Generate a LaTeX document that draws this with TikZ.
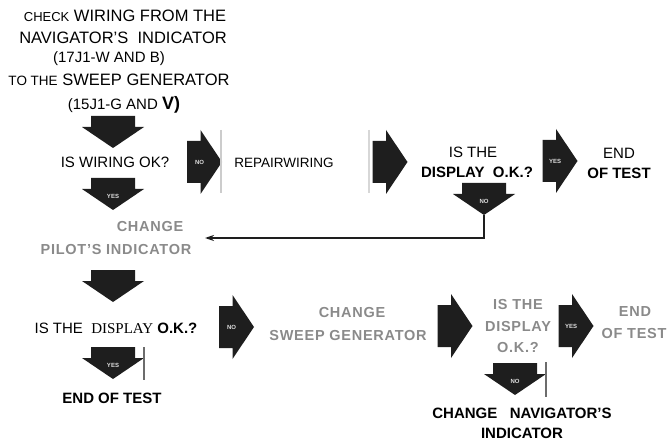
\documentclass[tikz,border=0pt]{standalone}
\usepackage{fontspec}
\setmainfont{Liberation Sans}
\newfontfamily\serifface{Liberation Serif}
\usetikzlibrary{arrows.meta}
\definecolor{ink}{HTML}{1E1E1E}
\definecolor{fadetext}{HTML}{8A8A8A}
\definecolor{edge}{HTML}{9A9A9A}
\begin{document}
\begin{tikzpicture}[x=1pt,y=-1pt,
  txt/.style={inner sep=0pt, text=black, font=\fontsize{15}{18}\selectfont},
  btxt/.style={txt, font=\fontsize{15}{18}\selectfont\bfseries},
  toptxt/.style={inner sep=0pt, text=black, font=\fontsize{16.5}{19}\selectfont},
  fade/.style={inner sep=0pt, text=fadetext, font=\fontsize{14.5}{17}\selectfont\bfseries\addfontfeatures{LetterSpace=5}},
  tag/.style={inner sep=0pt, text=white!75!gray, font=\fontsize{6}{6}\selectfont\bfseries},
  conn/.style={draw=ink, line width=1.4pt, -{Stealth[length=9pt,width=6pt]}},
  scanline/.style={draw=edge, line width=1.2pt},
  rarr/.pic={
    \fill[ink] (-17.5,-21) -- (-4,-21) -- (-4,-32) -- (17.5,0) -- (-4,32) -- (-4,21) -- (-17.5,21) -- cycle;
    \node[tag] (-t) at (-5,0) {#1};
  },
  darr/.pic={
    \fill[ink] (-22,-16) -- (22,-16) -- (22,-5) -- (31,-5) -- (0,16) -- (-31,-5) -- (-22,-5) -- cycle;
    \node[tag] (-t) at (0,2) {#1};
    \coordinate (-tip) at (0,16);
  }]
\useasboundingbox (0,0) rectangle (667,441);

% top block
\node[toptxt] (l1) at (125,16) {{\fontsize{13}{15}\selectfont CHECK} WIRING FROM THE};
\node[toptxt] (l2) at (123,38) {NAVIGATOR'S\ \ INDICATOR};
\node[toptxt] (l3) at (109,59) {\fontsize{15}{17}\selectfont (17J1-W AND\ B)};
\node[toptxt] (l4) at (119,80) {{\fontsize{13.5}{16}\selectfont TO THE} SWEEP GENERATOR};
\node[toptxt] (l5) at (124,105) {\fontsize{15}{17}\selectfont (15J1-G AND \textbf{\fontsize{18}{18}\selectfont V)}};

% row 1
\pic (a1) at (113,132) {darr={}};
\node[txt] (wiring) at (115,162) {IS WIRING OK?};
\pic (r1) at (204.5,162) {rarr=NO};
\draw[scanline, draw=edge!50] (221,130) -- (221,193);
\node[txt, font=\fontsize{13.5}{16}\selectfont] (repair) at (284,163) {REPAIRWIRING};
\draw[scanline, draw=edge!40] (369,130) -- (369,193);
\pic (r2) at (390,162) {rarr={}};
\node[txt] (isthe1) at (473,152) {IS THE};
\node[btxt] (disp1) at (477,172) {DISPLAY\ \ O.K.?};
\pic (r3) at (560,161) {rarr=YES};
\node[txt] (end1) at (619,153) {END};
\node[btxt] (oft1) at (619,173) {OF TEST};
\pic (a2) at (113,194) {darr=YES};
\pic (na) at (484,199) {darr=NO};

% row 2
\node[fade] (pil1) at (150,227) {CHANGE};
\node[fade] (pil2) at (116,250) {PILOT'S INDICATOR};
\coordinate (pend) at (205,238);
\draw[conn] (na-tip) |- (pend);
\pic (a3) at (113,286) {darr={}};

% row 3
\node[txt] (disp2) at (116,328) {IS THE\ \ {\serifface DISPLAY} \textbf{O.K.?}};
\pic (a4) at (113,363) {darr=YES};
\draw[scanline, draw=edge!70!black] (144,347) -- (144,380);
\node[btxt] (end2) at (112,398) {END OF TEST};
\pic (r4) at (236.5,327) {rarr=NO};
\node[fade] (sw1) at (352,313) {CHANGE};
\node[fade] (sw2) at (348,336) {SWEEP GENERATOR};
\pic (r5) at (455,326) {rarr={}};
\node[fade] (is3) at (518,305) {IS THE};
\node[fade] (is4) at (518,327) {DISPLAY};
\node[fade] (is5) at (518,348) {O.K.?};
\pic (r6) at (576,326) {rarr=YES};
\node[fade] (end3) at (635,312) {END};
\node[fade] (oft3) at (634,334) {OF TEST};
\pic (a5) at (515,379) {darr=NO};
\draw[scanline, draw=edge!70!black] (546,362) -- (546,397);
\node[btxt] (nav1) at (522,413) {CHANGE\ \ \ NAVIGATOR'S};
\node[btxt] (nav2) at (522,433) {INDICATOR};
\end{tikzpicture}
\end{document}
